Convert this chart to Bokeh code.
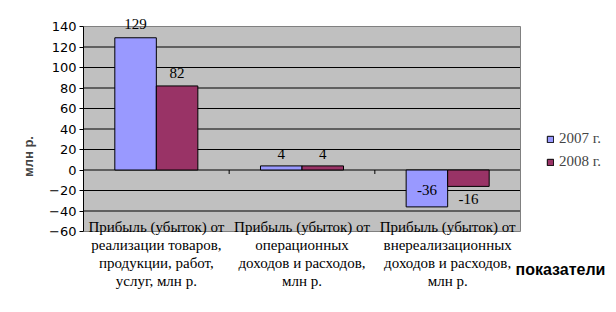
from bokeh.plotting import figure
from bokeh.models import ColumnDataSource, FixedTicker, Legend, LegendItem, Label
from bokeh.core.properties import value
from bokeh.embed import file_html
from bokeh.resources import INLINE

categories = [
    "Прибыль (убыток) от\nреализации товаров,\nпродукции, работ,\nуслуг, млн р.",
    "Прибыль (убыток) от\nоперационных\nдоходов и расходов,\nмлн р.",
    "Прибыль (убыток) от\nвнереализационных\nдоходов и расходов,\nмлн р.",
]
series_names = ["2007 г.", "2008 г."]
values_2007 = [129, 4, -36]
values_2008 = [82, 4, -16]
y_ticks = [-60, -40, -20, 0, 20, 40, 60, 80, 100, 120, 140]
x_title = "показатели"
y_title = "млн р."

# ---- layout / style ----
W, H = 616, 312
area_left, area_right = 83, 520      # pixel extent of the grey plot area
area_top, area_bottom = 26, 231
colors = ["#9999FF", "#993366"]
bar_w = 0.285
serif = "Liberation Serif"
sans = "Liberation Sans"

n = len(categories)
centers = [i + 0.5 for i in range(n)]
y0, y1 = y_ticks[0], y_ticks[-1]
ppu_y = (area_bottom - area_top) / (y1 - y0)
ppu_x = (area_right - area_left) / n
yr = (y0 - (H - area_bottom) / ppu_y, y1 + area_top / ppu_y)
xr = (0, n + (W - area_right) / ppu_x)

p = figure(width=W, height=H, output_backend="svg", toolbar_location=None,
           x_range=xr, y_range=yr,
           min_border_left=area_left, min_border_top=0, min_border_bottom=0, min_border_right=0)
p.background_fill_color = "white"
p.border_fill_color = "white"
p.outline_line_color = None
p.xaxis.visible = False
p.xgrid.visible = False
p.ygrid.visible = False

# grey plot area
p.quad(left=[0], right=[n], bottom=[y0], top=[y1], fill_color="#C0C0C0", line_color=None)
# horizontal gridlines
inner = y_ticks[1:-1]
p.segment(x0=[0] * len(inner), y0=inner, x1=[n] * len(inner), y1=inner, line_color="black", line_width=1)
# border (top / right / bottom)
p.segment(x0=[0, n, 0], y0=[y1, y1, y0], x1=[n, n, n], y1=[y1, y0, y0], line_color="#808080", line_width=1)

renderers = []
label_offsets = [[-14, -12, -17], [-13, -12, 13]]
for k, vals in enumerate([values_2007, values_2008]):
    xs = [c + (k - 0.5) * bar_w for c in centers]
    src = ColumnDataSource(dict(x=xs, top=vals, txt=[str(v) for v in vals], off=label_offsets[k]))
    r = p.vbar(x="x", top="top", bottom=0, width=bar_w, source=src,
               fill_color=colors[k], line_color="black", line_width=1)
    renderers.append(r)
    p.text(x="x", y="top", text="txt", y_offset="off", source=src,
           text_font=value(serif), text_font_size="15px", text_align="center",
           text_baseline="middle", text_color="black")

# category boundary ticks on zero line
bx = [float(i) for i in range(1, n)]
p.segment(x0=bx, y0=[0] * len(bx), x1=bx, y1=[-4 / ppu_y] * len(bx), line_color="black", line_width=1)

# category labels (x axis labels)
p.text(x=centers, y=[y0] * n, text=categories, y_offset=-13,
       text_font=value(serif), text_font_size="15px", text_align="center",
       text_baseline="top", text_line_height=1.13, text_color="black")

# y axis
p.yaxis.bounds = (y0, y1)
p.yaxis.ticker = FixedTicker(ticks=y_ticks)
p.yaxis.major_label_text_font = "DejaVu Sans"
p.yaxis.major_label_text_font_size = "13px"
p.yaxis.major_label_text_color = "black"
p.yaxis.axis_line_color = "black"
p.yaxis.major_tick_line_color = "black"
p.yaxis.major_tick_out = 4
p.yaxis.major_tick_in = 0
p.yaxis.minor_tick_line_color = None
p.yaxis.major_label_standoff = 3
p.yaxis.axis_label = y_title
p.yaxis.axis_label_text_font = sans
p.yaxis.axis_label_text_font_style = "bold"
p.yaxis.axis_label_text_font_size = "13px"
p.yaxis.axis_label_standoff = 10

legend = Legend(items=[LegendItem(label=series_names[i], renderers=[renderers[i]]) for i in range(2)],
                location=(546 - area_left, H - 170), border_line_color=None, background_fill_alpha=0,
                label_text_font=serif, label_text_font_size="15px",
                glyph_width=8, glyph_height=8, label_height=16, spacing=6, label_standoff=5,
                padding=0, margin=0)
p.add_layout(legend, "center")

p.add_layout(Label(x=515 - area_left, y=H - 277, x_units="screen", y_units="screen", text=x_title,
                   text_font=sans, text_font_style="bold", text_font_size="16px",
                   text_color="black"))

open("out.html", "w").write(file_html(p, INLINE))
